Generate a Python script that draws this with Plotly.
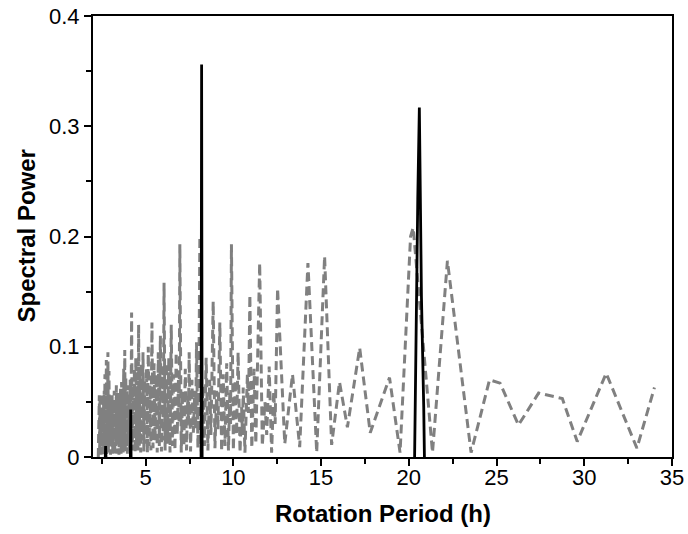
import plotly.graph_objects as go

# Gray dashed periodogram (period in hours, spectral power)
gray_period = [
    2.30, 2.32, 2.34, 2.36, 2.38, 2.40, 2.42, 2.44, 2.46, 2.48, 2.50, 2.52, 2.54, 2.56, 2.58, 2.60,
    2.62, 2.64, 2.66, 2.68, 2.70, 2.72, 2.74, 2.76, 2.78, 2.80, 2.82, 2.85, 2.88, 2.91, 2.94, 2.97,
    3.00, 3.03, 3.06, 3.09, 3.12, 3.15, 3.18, 3.21, 3.24, 3.27, 3.30, 3.33, 3.36, 3.39, 3.42, 3.45,
    3.48, 3.51, 3.54, 3.57, 3.60, 3.63, 3.66, 3.69, 3.72, 3.75, 3.78, 3.81, 3.84, 3.87, 3.90, 3.93,
    3.96, 3.99, 4.02, 4.05, 4.08, 4.12, 4.16, 4.20, 4.24, 4.28, 4.32, 4.36, 4.40, 4.44, 4.48, 4.52,
    4.56, 4.60, 4.64, 4.68, 4.72, 4.76, 4.80, 4.85, 4.90, 4.95, 5.00, 5.05, 5.10, 5.15, 5.20, 5.25,
    5.30, 5.36, 5.42, 5.48, 5.54, 5.60, 5.66, 5.72, 5.78, 5.84, 5.90, 5.96, 6.00, 6.05, 6.11, 6.18,
    6.25, 6.32, 6.39, 6.46, 6.53, 6.60, 6.67, 6.74, 6.80, 6.87, 6.91, 6.95, 7.03, 7.11, 7.18, 7.26,
    7.33, 7.40, 7.44, 7.48, 7.56, 7.64, 7.72, 7.80, 7.85, 7.90, 7.98, 8.04, 8.09, 8.17, 8.26, 8.35,
    8.45, 8.55, 8.65, 8.72, 8.85, 8.95, 9.05, 9.12, 9.23, 9.33, 9.42, 9.52, 9.62, 9.72, 9.80, 9.84,
    9.89, 10.00, 10.10, 10.18, 10.27, 10.38, 10.47, 10.52, 10.56, 10.66, 10.80, 10.86, 10.94, 11.05,
    11.18, 11.28, 11.50, 11.65, 11.80, 11.90, 12.04, 12.18, 12.30, 12.38, 12.52, 12.93, 13.37, 13.78,
    14.25, 14.75, 15.20, 15.60, 16.05, 16.50, 17.20, 17.80, 18.90, 19.50, 20.10, 20.25, 21.35, 22.20,
    23.55, 24.60, 25.20, 26.25, 27.40, 28.75, 29.60, 31.25, 33.00, 34.00,
]
gray_power = [
    0.000, 0.048, 0.010, 0.056, 0.004, 0.052, 0.012, 0.045, 0.002, 0.058, 0.008, 0.050, 0.003, 0.042, 0.015, 0.055,
    0.002, 0.060, 0.010, 0.075, 0.004, 0.062, 0.012, 0.088, 0.003, 0.070, 0.008, 0.095, 0.004, 0.078, 0.010, 0.055,
    0.002, 0.050, 0.012, 0.058, 0.003, 0.045, 0.015, 0.060, 0.002, 0.052, 0.010, 0.065, 0.003, 0.048, 0.014, 0.058,
    0.002, 0.050, 0.010, 0.062, 0.003, 0.068, 0.012, 0.055, 0.004, 0.080, 0.010, 0.097, 0.005, 0.072, 0.015, 0.060,
    0.003, 0.065, 0.012, 0.055, 0.004, 0.070, 0.010, 0.131, 0.006, 0.065, 0.015, 0.080, 0.004, 0.090, 0.012, 0.060,
    0.005, 0.120, 0.010, 0.075, 0.004, 0.085, 0.015, 0.095, 0.005, 0.070, 0.012, 0.080, 0.004, 0.100, 0.010, 0.065,
    0.006, 0.122, 0.008, 0.085, 0.015, 0.075, 0.004, 0.095, 0.010, 0.110, 0.005, 0.080, 0.015, 0.158, 0.006, 0.085,
    0.012, 0.090, 0.004, 0.120, 0.010, 0.075, 0.006, 0.095, 0.020, 0.070, 0.030, 0.193, 0.004, 0.060, 0.010, 0.080,
    0.006, 0.055, 0.030, 0.095, 0.005, 0.070, 0.022, 0.060, 0.025, 0.104, 0.008, 0.080, 0.200, 0.005, 0.065, 0.010,
    0.090, 0.006, 0.070, 0.020, 0.141, 0.008, 0.060, 0.025, 0.122, 0.005, 0.075, 0.010, 0.085, 0.006, 0.060, 0.030,
    0.193, 0.006, 0.070, 0.020, 0.095, 0.004, 0.045, 0.020, 0.063, 0.004, 0.075, 0.040, 0.147, 0.008,
    0.080, 0.012, 0.176, 0.010, 0.050, 0.020, 0.082, 0.004, 0.060, 0.030, 0.153, 0.012, 0.075, 0.009,
    0.176, 0.004, 0.182, 0.011, 0.068, 0.027, 0.099, 0.022, 0.072, 0.004, 0.200, 0.208, 0.004, 0.178,
    0.004, 0.070, 0.067, 0.029, 0.058, 0.053, 0.014, 0.076, 0.008, 0.063,
]

# Black solid peaks (None separates the spikes)
black_period = [2.70, 2.72, 2.74, None, 4.13, 4.15, 4.17, None, 8.16, 8.19, 8.22, None,
                20.33, 20.36, 20.45, 20.51, 20.60, 20.65, 20.72, 20.85, 20.89]
black_power = [0.0, 0.010, 0.0, None, 0.0, 0.043, 0.0, None, 0.0, 0.356, 0.0, None,
               0.0, 0.045, 0.145, 0.234, 0.317, 0.234, 0.145, 0.045, 0.0]

x_tickvals = [5, 10, 15, 20, 25, 30, 35]
y_tickvals = [0, 0.1, 0.2, 0.3, 0.4]
y_ticktext = ["0", "0.1", "0.2", "0.3", "0.4"]
x_title = "<b>Rotation Period (h)</b>"
y_title = "<b>Spectral Power</b>"

fig = go.Figure()
fig.add_trace(go.Scatter(
    x=gray_period, y=gray_power, mode="lines",
    line=dict(color="#808080", width=3, dash="9px,5px"),
    showlegend=False, hoverinfo="skip",
))
fig.add_trace(go.Scatter(
    x=black_period, y=black_power, mode="lines",
    line=dict(color="#000000", width=2.8),
    connectgaps=False, showlegend=False, hoverinfo="skip",
))

FONT = "Liberation Sans, Arial, sans-serif"
axis_font = dict(family=FONT, size=22, color="#000")
title_font = dict(family=FONT, size=24, color="#000")

common = dict(
    ticks="outside", ticklen=7, tickwidth=2, tickcolor="#000",
    showline=True, linecolor="#000", linewidth=2, mirror=True,
    showgrid=False, zeroline=False, tickfont=axis_font, automargin=False,
    ticklabeloverflow="allow",
)

fig.update_layout(
    width=688, height=534,
    margin=dict(l=93, r=16, t=16, b=77),
    paper_bgcolor="white", plot_bgcolor="white",
    xaxis=dict(
        range=[2, 35], tickvals=x_tickvals, ticklabelstandoff=-7,
        minor=dict(dtick=2.5, tick0=0, ticks="outside", ticklen=5, tickwidth=2, tickcolor="#000", showgrid=False),
        **common,
    ),
    yaxis=dict(
        range=[0, 0.4], tickvals=y_tickvals, ticktext=y_ticktext,
        minor=dict(dtick=0.05, tick0=0, ticks="outside", ticklen=5, tickwidth=2, tickcolor="#000", showgrid=False),
        **common,
    ),
    annotations=[
        dict(text=x_title, xref="paper", yref="paper", x=0.5, y=0, xanchor="center", yanchor="middle",
             yshift=-56, showarrow=False, font=title_font),
        dict(text=y_title, xref="paper", yref="paper", x=0, y=0.5, xanchor="center", yanchor="middle",
             xshift=-67, textangle=-90, showarrow=False, font=title_font),
    ],
)

# remove the browser's default 8px body margin so the figure sits at the page corner
fig.write_html("out.html", config={"displayModeBar": False},
               post_script="document.body.style.margin='0px';")
